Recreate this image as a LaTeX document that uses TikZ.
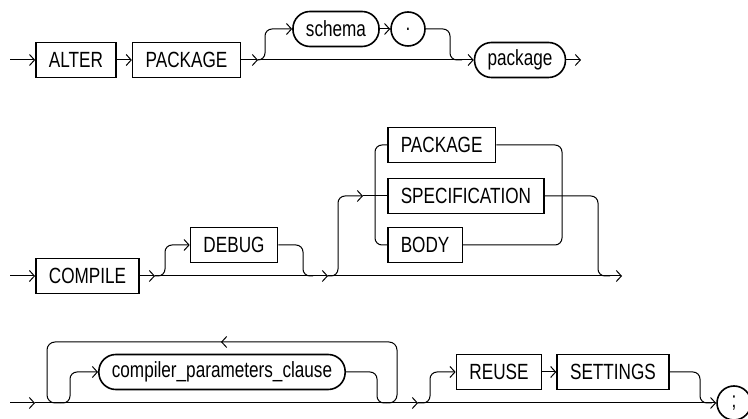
\documentclass[tikz,border=0pt]{standalone}
\usepackage{fontspec}
\setmainfont{Liberation Sans}[FakeStretch=0.78]
\usetikzlibrary{arrows.meta, decorations.markings}

\begin{document}
\begin{tikzpicture}[
  x=1pt, y=-1pt, line width=1pt,
  kbox/.style={draw, line width=1.6pt, minimum height=35pt, inner xsep=13pt, inner ysep=0pt, font={\fontsize{22}{22}\selectfont}},
  nbox/.style={kbox, rounded corners=17pt},
  sym/.style={draw, line width=1.6pt, circle, minimum size=34pt, inner sep=0pt, font={\fontsize{22}{22}\selectfont}},
  arr/.style={-{Straight Barb[length=5pt,width=11pt]}},
  loopback/.style={postaction={decorate}, decoration={markings, mark=at position 0.5 with {\arrow{Straight Barb[length=5pt,width=11pt]}}}}
]
  \useasboundingbox (0,0) rectangle (748,419);

  % ALTER PACKAGE [schema .] package
  \coordinate (s1) at (10,60);
  \node[kbox] (alter) at (76,60) {ALTER};
  \node[kbox] (pkgkw) at (186.5,60) {PACKAGE};
  \coordinate (j1) at (258,60);
  \node[nbox] (schema) at (336,29) {schema};
  \node[sym] (dot) at (408,29) {.};
  \coordinate (j2) at (462,60);
  \node[nbox] (pkgname) at (520,60) {package};
  \coordinate (e1) at (581,60);

  \draw[arr] (s1) -- (alter);
  \draw[arr] (alter) -- (pkgkw);
  \draw[arr] (pkgkw) -- (j1);
  \draw[arr] (j1) -- (pkgname);
  \draw[arr, rounded corners=7pt] (j1) -- ++(7,0) |- (schema.west);
  \draw[arr] (schema) -- (dot);
  \draw[rounded corners=7pt] (dot.east) -| ([xshift=-12pt]j2) -- (j2);
  \draw[arr] (pkgname) -- (e1);

  % COMPILE [DEBUG] [PACKAGE | SPECIFICATION | BODY]
  \coordinate (s2) at (10,276);
  \node[kbox] (compile) at (87.5,276) {COMPILE};
  \coordinate (j3) at (155,276);
  \node[kbox] (debug) at (234,245) {DEBUG};
  \coordinate (m2) at (313,276);
  \coordinate (j4) at (328,276);
  \coordinate (ca) at (363,196);
  \coordinate (cl) at (375,196);
  \node[kbox, anchor=west] (pkgopt) at (387,145) {PACKAGE};
  \node[kbox, anchor=west] (spec) at (387,196) {SPECIFICATION};
  \node[kbox, anchor=west] (body) at (387,245) {BODY};
  \coordinate (cr) at (562,196);
  \coordinate (e2) at (622,276);

  \draw[arr] (s2) -- (compile);
  \draw[arr] (compile) -- (j3);
  \draw[arr] (j3) -- (j4);
  \draw[arr] (j4) -- (e2);
  \draw[arr, rounded corners=7pt] (j3) -- ++(10,0) |- (debug.west);
  \draw[rounded corners=7pt] (debug.east) -| ([xshift=-10pt]m2) -- (m2);
  \draw[arr, rounded corners=7pt] (j4) -- ++(10,0) |- (ca);
  \draw (ca) -- (spec);
  \draw[rounded corners=7pt] (pkgopt.west) -| (cl) |- (body.west);
  \draw[rounded corners=7pt] (pkgopt.east) -| (cr) |- (body.east);
  \draw[rounded corners=7pt] (spec.east) -| ([xshift=-24pt]e2) -- ([xshift=-12pt]e2);

  % {compiler_parameters_clause} [REUSE SETTINGS] ;
  \coordinate (s3) at (10,403);
  \coordinate (j5) at (35,403);
  \coordinate (lpL) at (60,403);
  \coordinate (lpB) at (47,403);
  \node[nbox] (cpc) at (222,372) {compiler\_parameters\_clause};
  \coordinate (lpR) at (386,403);
  \coordinate (lpT) at (397,342);
  \coordinate (j6) at (418,403);
  \node[kbox] (reuse) at (499,372) {REUSE};
  \node[kbox] (settings) at (613,372) {SETTINGS};
  \coordinate (m3) at (712,403);
  \node[sym] (semi) at (734,403) {;};

  \draw[arr] (s3) -- (j5);
  \draw[arr] (j5) -- (j6);
  \draw[arr] (j6) -- (semi);
  \draw[arr, rounded corners=7pt] (lpL) -- ++(10,0) |- (cpc.west);
  \draw[rounded corners=7pt] (cpc.east) -| ([xshift=-9pt]lpR) -- (lpR);
  \draw[loopback, rounded corners=8pt] (lpR) -| (lpT) -| (lpB) -- (lpL);
  \draw[arr, rounded corners=7pt] (j6) -- ++(12,0) |- (reuse.west);
  \draw[arr] (reuse) -- (settings);
  \draw[rounded corners=7pt] (settings.east) -| ([xshift=-12pt]m3) -- (m3);
\end{tikzpicture}
\end{document}
